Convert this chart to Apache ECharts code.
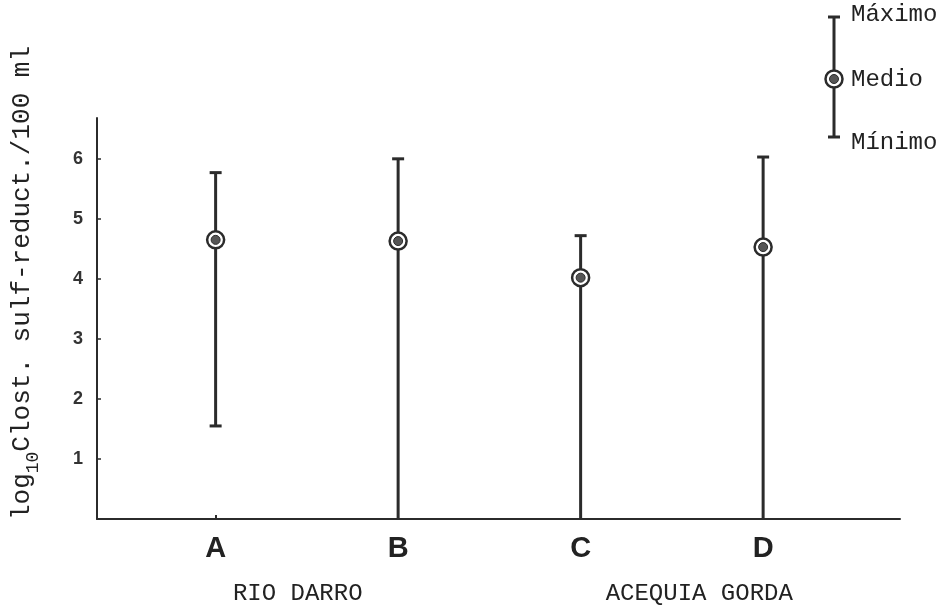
<!DOCTYPE html>
<html>
<head>
<meta charset="utf-8">
<script src="https://cdn.jsdelivr.net/npm/echarts@6/dist/echarts.min.js"></script>
<style>html,body{margin:0;padding:0;background:#fff}#c{width:947px;height:610px}</style>
</head>
<body>
<div id="c"></div>
<script>
const categories = ['A', 'B', 'C', 'D'];
const categoryPositions = [1, 2, 3, 4];
const minValues = [1.55, 0, 0, 0];
const meanValues = [4.65, 4.63, 4.02, 4.53];
const maxValues = [5.77, 6.0, 4.72, 6.03];
const groups = ['RIO DARRO', 'ACEQUIA GORDA'];
const yTickValues = [1, 2, 3, 4, 5, 6];
const legendLabels = ['Máximo', 'Medio', 'Mínimo'];
const yAxisTitle = ['log', '10', 'Clost. sulf-reduct./100 ml'];

const INK = '#2b2b2b';
const MONO = '"Liberation Mono", "DejaVu Sans Mono", monospace';
const SANS = '"Liberation Sans", Arial, sans-serif';

const rows = categories.map((c, i) => [categoryPositions[i], minValues[i], meanValues[i], maxValues[i]]);

const chart = echarts.init(document.getElementById('c'));

function renderItem(params, api) {
  const x = api.value(0);
  const lo = api.coord([x, api.value(1)]);
  const mid = api.coord([x, api.value(2)]);
  const hi = api.coord([x, api.value(3)]);
  const capW = 6;
  const children = [
    { type: 'line', shape: { x1: lo[0], y1: lo[1], x2: hi[0], y2: hi[1] }, style: { stroke: INK, lineWidth: 3 } },
    { type: 'line', shape: { x1: hi[0] - capW, y1: hi[1], x2: hi[0] + capW, y2: hi[1] }, style: { stroke: INK, lineWidth: 3 } }
  ];
  if (api.value(1) > 0) {
    children.push({ type: 'line', shape: { x1: lo[0] - capW, y1: lo[1], x2: lo[0] + capW, y2: lo[1] }, style: { stroke: INK, lineWidth: 3 } });
  }
  children.push({ type: 'circle', shape: { cx: mid[0], cy: mid[1], r: 8.5 }, style: { fill: '#fff', stroke: INK, lineWidth: 2.5 } });
  children.push({ type: 'circle', shape: { cx: mid[0], cy: mid[1], r: 4.5 }, style: { fill: '#555', stroke: INK, lineWidth: 1 } });
  return { type: 'group', children };
}

const lx = 834;
chart.setOption({
  backgroundColor: '#fff',
  animation: false,
  grid: { left: 97, right: 47, top: 118, bottom: 91 },
  xAxis: [
    {
      type: 'value', min: 0.35, max: 4.75,
      splitLine: { show: false },
      axisLine: { show: true, lineStyle: { color: INK, width: 2 } },
      axisTick: { show: true, inside: true, length: 4, customValues: categoryPositions, lineStyle: { color: INK, width: 2 } },
      axisLabel: {
        customValues: categoryPositions,
        formatter: v => categories[categoryPositions.indexOf(Math.round(v))] || '',
        fontFamily: SANS, fontWeight: 'bold', fontSize: 29, color: '#222', margin: 15
      }
    },
    {
      type: 'category', position: 'bottom', data: groups,
      axisLine: { show: false }, axisTick: { show: false }, splitLine: { show: false },
      axisLabel: { fontFamily: MONO, fontSize: 24, color: '#222', margin: 63 }
    }
  ],
  yAxis: {
    type: 'value', min: 0, max: 6.68, interval: 1,
    splitLine: { show: false },
    axisLine: { show: true, lineStyle: { color: INK, width: 2 } },
    axisTick: { show: true, inside: true, length: 4, customValues: yTickValues, lineStyle: { color: INK, width: 1.5 } },
    axisLabel: { customValues: yTickValues, fontFamily: SANS, fontWeight: 'bold', fontSize: 18, color: '#333', margin: 14 }
  },
  series: [{
    type: 'custom', xAxisIndex: 0, yAxisIndex: 0,
    renderItem: renderItem,
    encode: { x: 0, y: [1, 2, 3] },
    data: rows
  }],
  graphic: [
    {
      type: 'text', x: 22, y: 283, rotation: Math.PI / 2,
      style: {
        text: '{a|' + yAxisTitle[0] + '}{s|' + yAxisTitle[1] + '}{a|' + yAxisTitle[2] + '}',
        align: 'center', verticalAlign: 'middle',
        rich: {
          a: { fontFamily: MONO, fontSize: 26, fill: '#222', lineHeight: 40, verticalAlign: 'middle' },
          s: { fontFamily: MONO, fontSize: 18, fill: '#222', lineHeight: 40, verticalAlign: 'bottom' }
        }
      }
    },
    { type: 'line', shape: { x1: lx, y1: 17, x2: lx, y2: 137 }, style: { stroke: INK, lineWidth: 3 } },
    { type: 'line', shape: { x1: lx - 6, y1: 17, x2: lx + 6, y2: 17 }, style: { stroke: INK, lineWidth: 3 } },
    { type: 'line', shape: { x1: lx - 6, y1: 137, x2: lx + 6, y2: 137 }, style: { stroke: INK, lineWidth: 3 } },
    { type: 'circle', shape: { cx: lx, cy: 79, r: 8.5 }, style: { fill: '#fff', stroke: INK, lineWidth: 2.5 } },
    { type: 'circle', shape: { cx: lx, cy: 79, r: 4.5 }, style: { fill: '#555', stroke: INK, lineWidth: 1 } },
    { type: 'text', x: 851, y: 15, style: { text: legendLabels[0], fontFamily: MONO, fontSize: 24, fill: '#222', verticalAlign: 'middle' } },
    { type: 'text', x: 851, y: 80, style: { text: legendLabels[1], fontFamily: MONO, fontSize: 24, fill: '#222', verticalAlign: 'middle' } },
    { type: 'text', x: 851, y: 143, style: { text: legendLabels[2], fontFamily: MONO, fontSize: 24, fill: '#222', verticalAlign: 'middle' } }
  ]
});
</script>
</body>
</html>
